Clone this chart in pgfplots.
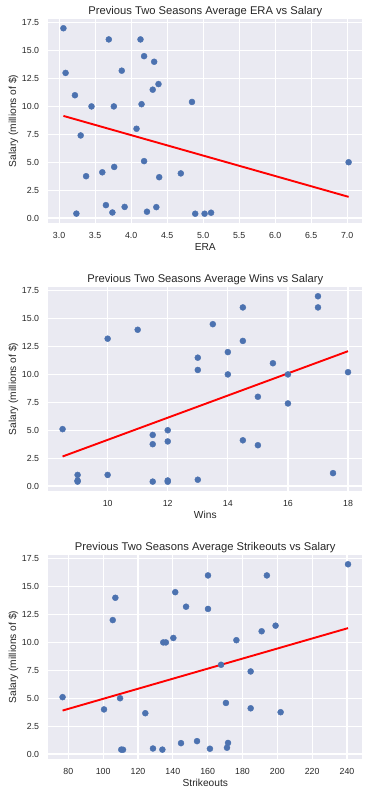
\documentclass[border=0pt]{standalone}
\usepackage{pgfplots}
\pgfplotsset{compat=1.18}
\usepackage{fontspec}
\setmainfont{Liberation Sans}
\definecolor{bgc}{HTML}{EAEAF2}
\definecolor{pt}{HTML}{4C72B0}
\definecolor{txt}{HTML}{262626}
\pgfplotsset{
  every axis title shift=0pt,
  sbstyle/.style={
    scale only axis, width=314pt, height=204pt,
    anchor=north west,
    axis background/.style={fill=bgc},
    axis line style={draw=none},
    major tick length=0pt,
    xmajorgrids, ymajorgrids,
    major grid style={draw=white, line width=1.2pt},
    ymin=-0.44, ymax=17.83,
    ytick={0,2.5,5,7.5,10,12.5,15,17.5},
    yticklabel style={/pgf/number format/fixed, /pgf/number format/fixed zerofill, /pgf/number format/precision=1},
    yticklabel style={anchor=east, inner sep=0pt, xshift=-9pt, text=txt, font=\fontsize{8.8}{10}\selectfont},
    xticklabel style={anchor=base, inner sep=0pt, yshift=-15.4pt, text=txt, font=\fontsize{8.8}{10}\selectfont},
    /pgf/number format/assume math mode=true,
    title style={at={(axis description cs:0.5,1)}, anchor=base, inner sep=0pt, yshift=4.5pt, text=txt, font=\fontsize{11.2}{13}\selectfont},
    xlabel style={at={(axis description cs:0.5,0)}, anchor=base, inner sep=0pt, yshift=-27.6pt, text=txt, font=\fontsize{10.2}{12}\selectfont},
    ylabel style={at={([xshift=-35pt]axis description cs:0,0.5)}, anchor=center, inner sep=0pt, text=txt, font=\fontsize{10.2}{12}\selectfont},
    ylabel={Salary (millions of \$)},
    clip=false,
  },
  sbpts/.style={only marks, mark=*, mark size=3.0pt, color=pt, fill=pt, draw=pt, mark options={solid, fill=pt, draw=pt, line width=0.4pt}},
  sbline/.style={red, line width=1.9pt, no marks},
}
\begin{document}
\begin{tikzpicture}
\path[use as bounding box] (0,0) rectangle (377pt,794pt);
% Panel 1: ERA
\begin{axis}[sbstyle, at={(48.3pt,775pt)},
  xmin=2.85, xmax=7.21,
  xtick={3,3.5,4,4.5,5,5.5,6,6.5,7},
  xticklabel style={/pgf/number format/fixed, /pgf/number format/fixed zerofill, /pgf/number format/precision=1},
  title={Previous Two Seasons Average ERA vs Salary},
  xlabel={ERA}]
\addplot[sbpts] table {
x y
3.06 17.0
3.09 13.0
3.22 11.0
3.45 10.0
3.69 16.0
3.76 10.0
3.87 13.2
4.075 8.0
4.13 16.0
4.145 10.2
4.18 14.5
4.30 11.5
4.32 14.0
4.38 12.0
4.845 10.4
3.30 7.4
3.375 3.75
3.24 0.4
3.60 4.1
3.65 1.16
3.765 4.58
3.74 0.5
3.91 1.0
4.18 5.1
4.22 0.57
4.35 0.98
4.39 3.66
4.69 4.0
4.89 0.39
5.02 0.39
5.11 0.48
7.02 5.0
};
\addplot[sbline] coordinates {(3.06,9.15) (7.02,1.9)};
\end{axis}
% Panel 2: Wins
\begin{axis}[sbstyle, at={(48.3pt,507pt)},
  xmin=8.025, xmax=18.475,
  xtick={8,10,12,14,16,18},
  title={Previous Two Seasons Average Wins vs Salary},
  xlabel={Wins}]
\addplot[sbpts] table {
x y
10 13.2
11 14.0
13 11.5
13 10.4
13.5 14.5
14 12.0
14 10.0
14.5 16.0
14.5 13.0
15 8.0
15.5 11.0
16 10.0
16 7.4
17 17.0
17 16.0
18 10.2
8.5 5.1
9 1.0
9 0.5
9 0.4
10 1.0
11.5 4.58
11.5 3.75
11.5 0.4
12 5.0
12 4.0
12 0.5
12 0.39
13 0.57
14.5 4.1
15 3.66
17.5 1.16
};
\addplot[sbline] coordinates {(8.5,2.65) (18,12.08)};
\end{axis}
% Panel 3: Strikeouts
\begin{axis}[sbstyle, at={(48.3pt,239pt)},
  xmin=68.5, xmax=248.8,
  xtick={80,100,120,140,160,180,200,220,240},
  title={Previous Two Seasons Average Strikeouts vs Salary},
  xlabel={Strikeouts}]
\addplot[sbpts] table {
x y
105.5 12.0
107 14.0
134.5 10.0
136 10.0
140.3 10.4
141.4 14.5
147.6 13.2
160.2 16.0
160.2 13.0
167.7 8.0
176.5 10.2
191 11.0
194 16.0
199 11.5
240.6 17.0
76.7 5.1
100.5 4.0
109.7 5.0
110.4 0.4
111.4 0.39
124.2 3.66
128.6 0.5
134 0.4
144.7 0.98
153.9 1.16
161.3 0.48
170.5 4.58
171.1 0.57
171.7 1.0
184.7 7.4
184.7 4.1
201.9 3.75
};
\addplot[sbline] coordinates {(76.7,3.9) (240.6,11.28)};
\end{axis}
\end{tikzpicture}
\end{document}
